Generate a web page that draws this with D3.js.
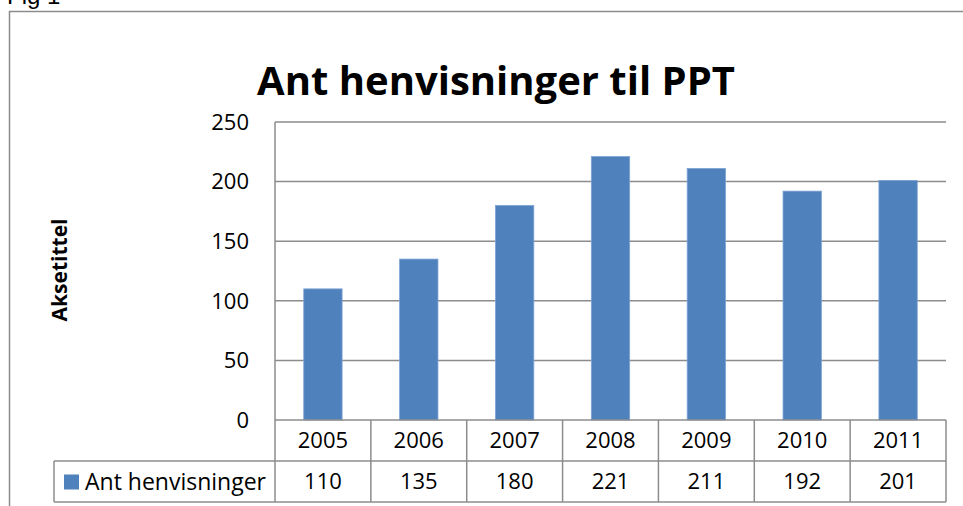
<!DOCTYPE html>
<html>
<head>
<meta charset="utf-8">
<script src="https://cdn.jsdelivr.net/npm/d3@7"></script>
<style>
  body { margin: 0; background: white; }
  svg { display: block; }
</style>
</head>
<body>
<div id="viz_area"></div>
<script>
var width = 963
var height = 506

// data
var years = ["2005", "2006", "2007", "2008", "2009", "2010", "2011"]
var values = [110, 135, 180, 221, 211, 192, 201]
var yTicks = [0, 50, 100, 150, 200, 250]
var seriesName = "Ant henvisninger"
var title = "Ant henvisninger til PPT"
var axisTitle = "Aksetittel"

var font = "'Open Sans', sans-serif"
var gridColor = "#8c8c8c"
var barColor = "#4f81bd"

var svg = d3.select("#viz_area")
  .append("svg")
  .attr("width", width)
  .attr("height", height)
  .style("background-color", "white")

var plot = { left: 275, right: 946, top: 122, bottom: 420 }
var rowH = 41
var legendLeft = 54

var scX = d3.scaleBand()
  .domain(years)
  .range([plot.left, plot.right])
  .padding(0)

var scY = d3.scaleLinear()
  .domain([0, 250])
  .range([plot.bottom, plot.top])

// "Fig 1" caption, mostly cut off at the top
svg.append("text")
  .attr("x", 7)
  .attr("y", 4)
  .style("font-family", "'Liberation Sans', Arial, sans-serif")
  .style("font-size", "24px")
  .attr("fill", "black")
  .text("Fig 1")

// outer frame
svg.append("path")
  .attr("d", `M9.5,${height} V11.5 H${width}`)
  .attr("fill", "none")
  .attr("stroke", gridColor)
  .attr("stroke-width", 1.5)

// title
svg.append("text")
  .attr("x", 496)
  .attr("y", 95)
  .attr("text-anchor", "middle")
  .style("font-family", font)
  .style("font-weight", "bold")
  .style("font-size", "40px")
  .text(title)

// gridlines
svg.append("g")
  .selectAll("line")
  .data(yTicks.filter(d => d > 0))
  .enter().append("line")
  .attr("x1", plot.left)
  .attr("x2", plot.right)
  .attr("y1", d => scY(d))
  .attr("y2", d => scY(d))
  .attr("stroke", gridColor)
  .attr("stroke-width", 1.5)

// y tick labels
svg.append("g")
  .selectAll("text")
  .data(yTicks)
  .enter().append("text")
  .attr("x", 249)
  .attr("y", d => scY(d))
  .attr("dy", "0.35em")
  .attr("text-anchor", "end")
  .style("font-family", font)
  .style("font-size", "22px")
  .text(d => d)

// axis title
svg.append("text")
  .attr("transform", "translate(67,270) rotate(-90)")
  .attr("text-anchor", "middle")
  .style("font-family", font)
  .style("font-weight", "bold")
  .style("font-size", "21px")
  .text(axisTitle)

// bars
var barW = scX.bandwidth() * 0.4
svg.append("g")
  .selectAll("rect")
  .data(values)
  .enter().append("rect")
  .attr("x", (d, i) => scX(years[i]) + (scX.bandwidth() - barW) / 2)
  .attr("y", d => scY(d))
  .attr("width", barW)
  .attr("height", d => scY(0) - scY(d))
  .attr("fill", barColor)
  .attr("stroke", "#7da3d4")
  .attr("stroke-width", 0.8)

// data table
var table = svg.append("g")
  .attr("stroke", gridColor)
  .attr("stroke-width", 1.5)
  .attr("fill", "none")

// y axis line
table.append("line")
  .attr("x1", plot.left).attr("x2", plot.left)
  .attr("y1", plot.top).attr("y2", plot.bottom + 2 * rowH)

table.append("line")
  .attr("x1", plot.left).attr("x2", plot.right)
  .attr("y1", plot.bottom).attr("y2", plot.bottom)
table.append("line")
  .attr("x1", legendLeft).attr("x2", plot.right)
  .attr("y1", plot.bottom + rowH).attr("y2", plot.bottom + rowH)
table.append("line")
  .attr("x1", legendLeft).attr("x2", plot.right)
  .attr("y1", plot.bottom + 2 * rowH).attr("y2", plot.bottom + 2 * rowH)
table.append("line")
  .attr("x1", legendLeft).attr("x2", legendLeft)
  .attr("y1", plot.bottom + rowH).attr("y2", plot.bottom + 2 * rowH)

table.selectAll(".sep")
  .data(years)
  .enter().append("line")
  .attr("class", "sep")
  .attr("x1", d => scX(d) + scX.bandwidth())
  .attr("x2", d => scX(d) + scX.bandwidth())
  .attr("y1", plot.bottom)
  .attr("y2", plot.bottom + 2 * rowH)

svg.append("g")
  .selectAll("text")
  .data(years)
  .enter().append("text")
  .attr("x", d => scX(d) + scX.bandwidth() / 2)
  .attr("y", plot.bottom + rowH / 2)
  .attr("dy", "0.35em")
  .attr("text-anchor", "middle")
  .style("font-family", font)
  .style("font-size", "22px")
  .text(d => d)

svg.append("g")
  .selectAll("text")
  .data(values)
  .enter().append("text")
  .attr("x", (d, i) => scX(years[i]) + scX.bandwidth() / 2)
  .attr("y", plot.bottom + rowH * 1.5)
  .attr("dy", "0.35em")
  .attr("text-anchor", "middle")
  .style("font-family", font)
  .style("font-size", "22px")
  .text(d => d)

// legend key in table
svg.append("rect")
  .attr("x", 64)
  .attr("y", plot.bottom + rowH * 1.5 - 7)
  .attr("width", 15)
  .attr("height", 15)
  .attr("fill", barColor)

svg.append("text")
  .attr("x", 85)
  .attr("y", plot.bottom + rowH * 1.5)
  .attr("dy", "0.35em")
  .style("font-family", font)
  .style("font-size", "23px")
  .text(seriesName)
</script>
</body>
</html>
